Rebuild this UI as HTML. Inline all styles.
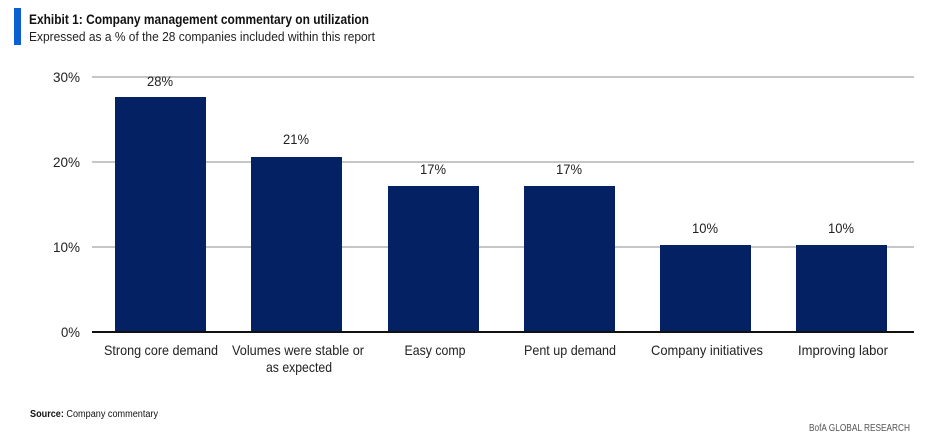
<!DOCTYPE html>
<html><head><meta charset="utf-8"><style>
body{margin:0;width:933px;height:438px;background:#fff;overflow:hidden;font-family:"Liberation Sans",sans-serif;}
</style></head><body>
<svg width="933" height="438" xmlns="http://www.w3.org/2000/svg" font-family="Liberation Sans, sans-serif">
<rect x="14" y="8" width="7" height="37" fill="#0a5fd3"/>
<text x="29" y="24" font-size="14" font-weight="bold" fill="#111" textLength="340" lengthAdjust="spacingAndGlyphs">Exhibit 1: Company management commentary on utilization</text>
<text x="29" y="41" font-size="13" fill="#222" textLength="346" lengthAdjust="spacingAndGlyphs">Expressed as a % of the 28 companies included within this report</text>
<g stroke="#b3b3b3" stroke-width="1.5">
<line x1="92" y1="77" x2="914" y2="77"/>
<line x1="92" y1="162" x2="914" y2="162"/>
<line x1="92" y1="247" x2="914" y2="247"/>
</g>
<g font-size="14" fill="#222" text-anchor="end">
<text x="80" y="82" textLength="27" lengthAdjust="spacingAndGlyphs">30%</text><text x="80" y="167" textLength="27" lengthAdjust="spacingAndGlyphs">20%</text><text x="80" y="252" textLength="27" lengthAdjust="spacingAndGlyphs">10%</text><text x="80" y="337" textLength="19" lengthAdjust="spacingAndGlyphs">0%</text>
</g>
<g fill="#032163">
<rect x="115" y="97" width="91" height="235"/>
<rect x="251" y="157" width="91" height="175"/>
<rect x="388" y="186" width="91" height="146"/>
<rect x="524" y="186" width="91" height="146"/>
<rect x="660" y="245" width="91" height="87"/>
<rect x="796" y="245" width="91" height="87"/>
</g>
<line x1="92" y1="332" x2="914" y2="332" stroke="#111" stroke-width="2"/>
<g font-size="14" fill="#222" text-anchor="middle">
<text x="160" y="86" textLength="26" lengthAdjust="spacingAndGlyphs">28%</text><text x="296" y="144" textLength="26" lengthAdjust="spacingAndGlyphs">21%</text><text x="433" y="174" textLength="26" lengthAdjust="spacingAndGlyphs">17%</text><text x="569" y="174" textLength="26" lengthAdjust="spacingAndGlyphs">17%</text><text x="705" y="233" textLength="26" lengthAdjust="spacingAndGlyphs">10%</text><text x="841" y="233" textLength="26" lengthAdjust="spacingAndGlyphs">10%</text>
<text x="161" y="355" textLength="114" lengthAdjust="spacingAndGlyphs">Strong core demand</text>
<text x="298" y="355" textLength="132" lengthAdjust="spacingAndGlyphs">Volumes were stable or</text>
<text x="299" y="372" textLength="66" lengthAdjust="spacingAndGlyphs">as expected</text>
<text x="435" y="355" textLength="61" lengthAdjust="spacingAndGlyphs">Easy comp</text>
<text x="570" y="355" textLength="92" lengthAdjust="spacingAndGlyphs">Pent up demand</text>
<text x="707" y="355" textLength="112" lengthAdjust="spacingAndGlyphs">Company initiatives</text>
<text x="843" y="355" textLength="90" lengthAdjust="spacingAndGlyphs">Improving labor</text>
</g>
<text x="30" y="417" font-size="10" fill="#111" textLength="128" lengthAdjust="spacingAndGlyphs"><tspan font-weight="bold">Source:</tspan> Company commentary</text>
<text x="809" y="431" font-size="10" fill="#555" textLength="101" lengthAdjust="spacingAndGlyphs">BofA GLOBAL RESEARCH</text>
</svg>
</body></html>
